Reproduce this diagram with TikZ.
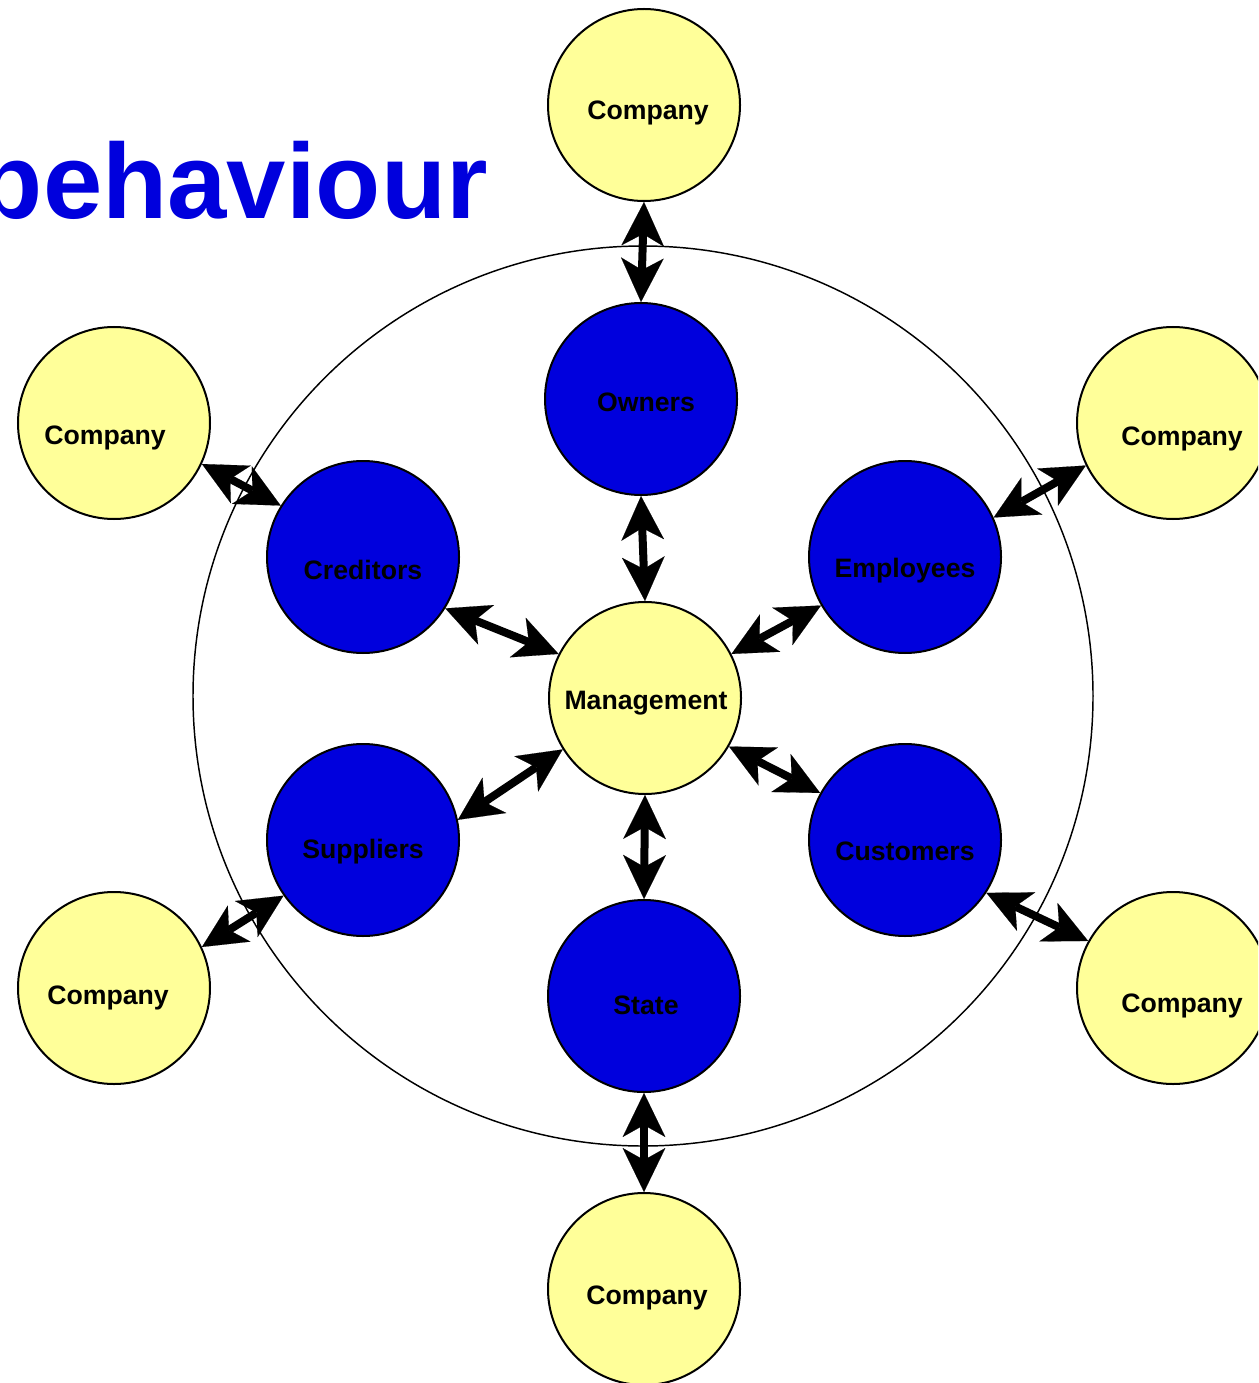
\documentclass[tikz,border=0pt]{standalone}
\usepackage{fontspec}
\setmainfont{Liberation Sans}
\usetikzlibrary{arrows.meta}
\definecolor{pale}{RGB}{255,255,153}
\definecolor{deepblue}{RGB}{0,0,221}

\begin{document}
\begin{tikzpicture}[x=0.75pt,y=0.75pt,yscale=-1,xscale=1,
  company/.style={circle,draw,line width=1.5pt,fill=pale,minimum size=144pt,inner sep=0pt},
  party/.style={company,fill=deepblue},
  lbl/.style={inner sep=0.75pt,font=\fontsize{20}{24}\selectfont\bfseries},
  link/.style={line width=6pt,{Stealth[length=33pt,width=32pt,inset=9pt,line width=0.1pt]}-{Stealth[length=33pt,width=32pt,inset=9pt,line width=0.1pt]}}]
\useasboundingbox (0,0) rectangle (1258,1383);
\clip (0,0) rectangle (1258,1383);

% Title
\node (title) [anchor=base east,inner sep=0pt,text=deepblue,font=\fontsize{80}{96}\selectfont\bfseries] at (488,219) {behaviour};

%Shape: Circle (outer ring)
\draw [line width=1.1pt] (643,696) circle [radius=450];

%Shape: Circle
\node (mgmt) [company] at (645,698) {};
\node (owners) [party] at (641,399) {};
\node (cred) [party] at (363,557) {};
\node (empl) [party] at (905,557) {};
\node (supp) [party] at (363,840) {};
\node (cust) [party] at (905,840) {};
\node (state) [party] at (644,996) {};
\node (cTop) [company] at (644,105) {};
\node (cTL) [company] at (114,423) {};
\node (cTR) [company] at (1173,423) {};
\node (cBL) [company] at (114,988) {};
\node (cBR) [company] at (1173,988) {};
\node (cBot) [company] at (644,1289) {};

%Straight Lines
\draw [link] (cTop.south) -- (owners.north);
\draw [link] (owners.south) -- (mgmt.north);
\draw [link] (cred.-32) -- (mgmt.153);
\draw [link] (cTL.-25) -- (cred.148);
\draw [link] (mgmt.27) -- (empl.-150);
\draw [link] (empl.24) -- (cTR.206);
\draw [link] (mgmt.212) -- (supp.12);
\draw [link] (supp.215) -- (cBL.25);
\draw [link] (mgmt.-30) -- (cust.151);
\draw [link] (cust.-33) -- (cBR.151);
\draw [link] (mgmt.south) -- (state.north);
\draw [link] (state.south) -- (cBot.north);

% Text Node
\node (mgmtT) [lbl] at (646,703) {Management};
\node (ownersT) [lbl] at (646,402) {Owners};
\node (credT) [lbl] at (363,570) {Creditors};
\node (emplT) [lbl] at (905,571) {Employees};
\node (suppT) [lbl] at (363,852) {Suppliers};
\node (custT) [lbl] at (905,851) {Customers};
\node (stateT) [lbl] at (646,1005) {State};
\node (cTopT) [lbl] at (648,113) {Company};
\node (cTLT) [lbl] at (105,438) {Company};
\node (cTRT) [lbl] at (1182,439) {Company};
\node (cBLT) [lbl] at (108,998) {Company};
\node (cBRT) [lbl] at (1182,1006) {Company};
\node (cBotT) [lbl] at (647,1298) {Company};

\end{tikzpicture}
\end{document}
